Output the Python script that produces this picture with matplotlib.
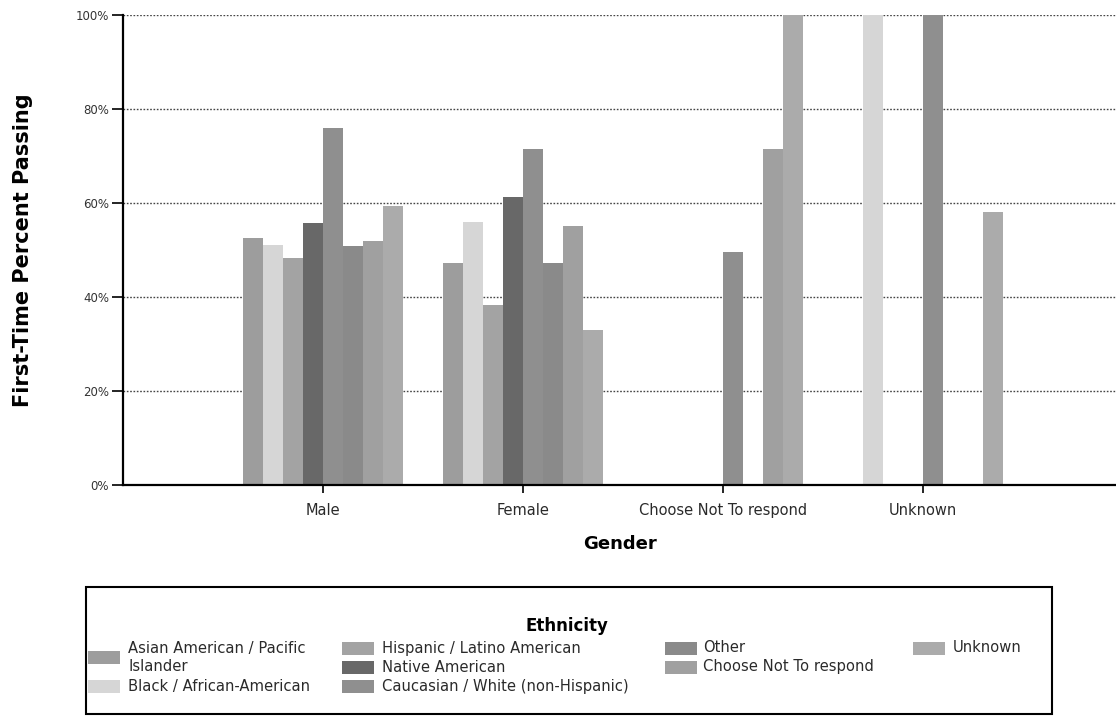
import matplotlib
matplotlib.use("Agg")
import matplotlib.pyplot as plt
from matplotlib.patches import Rectangle
from matplotlib.ticker import FuncFormatter
import numpy as np

plt.rcParams['font.family'] = ['DejaVu Sans']

genders = ["Male", "Female", "Choose Not To respond", "Unknown"]
ethnicities = [
    "Asian American / Pacific\nIslander",
    "Black / African-American",
    "Hispanic / Latino American",
    "Native American",
    "Caucasian / White (non-Hispanic)",
    "Other",
    "Choose Not To respond",
    "Unknown",
]
# percent passing per ethnicity across genders (Male, Female, Choose Not, Unknown); None = no bar
asian      = [52.5, 47.2, None, None]
black      = [51.1, 56.0, None, 100.0]
hispanic   = [48.4, 38.2, None, None]
native     = [55.7, 61.3, None, None]
caucasian  = [76.0, 71.5, 49.5, 100.0]
other      = [50.9, 47.2, None, None]
choose_not = [52.0, 55.2, 71.5, None]
unknown    = [59.4, 33.0, 100.0, 58.0]
series = [asian, black, hispanic, native, caucasian, other, choose_not, unknown]

colors = ["#9d9d9d", "#d6d6d6", "#a3a3a3", "#686868",
          "#8f8f8f", "#8a8a8a", "#a0a0a0", "#ababab"]

yticks = [0, 20, 40, 60, 80, 100]

W, H = 1116, 717
fig = plt.figure(figsize=(W/100, H/100), dpi=100)
ax = fig.add_axes([123/W, 1-485/H, 1-123/W, (485-15)/H])

x = np.arange(len(genders))
width = 0.1
for i, (vals, c) in enumerate(zip(series, colors)):
    xs = [xi - 0.4 + width*(i+0.5) for xi, v in zip(x, vals) if v is not None]
    hs = [v for v in vals if v is not None]
    ax.bar(xs, hs, width=width, color=c, edgecolor='none', zorder=3)

ax.set_xlim(-1, 3.965)
ax.set_ylim(0, 100)
ax.set_yticks(yticks)
ax.yaxis.set_major_formatter(FuncFormatter(lambda v, p: f"{int(v)}%"))
ax.set_xticks(x)
ax.set_xticklabels(genders, fontsize=10.5, color="#2a2a2a")
ax.tick_params(axis='y', labelsize=8.5, length=8, width=1.2, direction='out', pad=2,
               colors='black', labelcolor="#333333")
ax.tick_params(axis='x', length=6, width=1.2, direction='out', pad=7)
ax.yaxis.grid(True, linestyle=(0, (1.2, 1.2)), color="#444444", linewidth=1.0, zorder=0)
ax.set_axisbelow(True)
for s in ['top', 'right']:
    ax.spines[s].set_visible(False)
for s in ['left', 'bottom']:
    ax.spines[s].set_linewidth(1.6)
    ax.spines[s].set_zorder(4)

ax.set_ylabel("First-Time Percent Passing", fontsize=15, fontweight='bold')
ax.yaxis.set_label_coords((33-123)/(W-123), 0.5)
ax.set_xlabel("Gender", fontsize=13, fontweight='bold', labelpad=12)

# manual legend (pixel layout -> figure fraction)
def fx(px): return px/W
def fy(py): return 1 - py/H

fig.add_artist(Rectangle((fx(86), fy(714)), fx(1052)-fx(86), fy(587)-fy(714),
                         transform=fig.transFigure, facecolor='white',
                         edgecolor='black', linewidth=1.5, zorder=1))
fig.text(fx(567), fy(626), "Ethnicity", ha='center', va='center',
         fontsize=12, fontweight='bold', zorder=2)

rows = [648, 667, 686]
# (series index, handle x, text x, center y of text)
entries = [
    (0, 88, 128, (rows[0]+rows[1])/2),
    (1, 88, 128, rows[2]),
    (2, 342, 382, rows[0]),
    (3, 342, 382, rows[1]),
    (4, 342, 382, rows[2]),
    (5, 665, 703, rows[0]),
    (6, 665, 703, rows[1]),
    (7, 913, 953, rows[0]),
]
hw, hh = 32, 13
for idx, hx, tx, cy in entries:
    fig.add_artist(Rectangle((fx(hx), fy(cy + hh/2)), fx(hw), hh/H,
                             transform=fig.transFigure, facecolor=colors[idx],
                             edgecolor='none', zorder=2))
    fig.text(fx(tx), fy(cy), ethnicities[idx], ha='left', va='center',
             fontsize=10.6, color="#2a2a2a", linespacing=1.2, zorder=2)

fig.savefig("out.png", dpi=100)
